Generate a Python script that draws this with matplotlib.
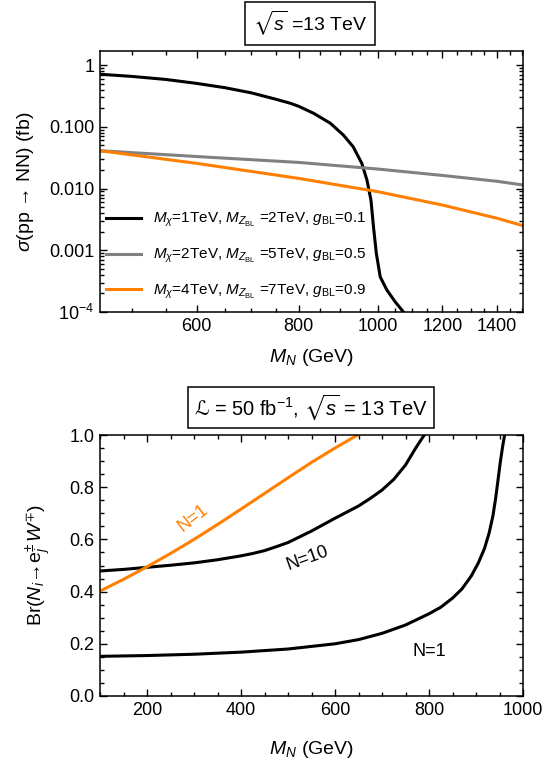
import numpy as np
import matplotlib
matplotlib.use('Agg')
import matplotlib.pyplot as plt
from matplotlib.ticker import (FixedLocator, FixedFormatter, MultipleLocator,
                               NullFormatter, LogLocator, FormatStrFormatter)

plt.rcParams['font.family'] = ['Liberation Sans', 'DejaVu Sans']
plt.rcParams['mathtext.fontset'] = 'custom'
plt.rcParams['mathtext.rm'] = 'Liberation Sans'
plt.rcParams['mathtext.it'] = 'Liberation Sans:italic'
plt.rcParams['mathtext.bf'] = 'Liberation Sans:bold'
plt.rcParams['mathtext.cal'] = 'DejaVu Sans'
plt.rcParams['mathtext.fallback'] = 'stix'

# ---------------- top panel data: sigma(pp -> NN) [fb] vs M_N [GeV]
mn_a = [457, 500, 550, 600, 650, 700, 750, 782, 800, 835, 875, 908, 933, 956,
        970, 981, 988, 996, 1007, 1026, 1050, 1066, 1075]
sig_a = [0.71, 0.655, 0.585, 0.505, 0.43, 0.355, 0.28, 0.24, 0.215, 0.165, 0.114,
         0.073, 0.0475, 0.0256, 0.0137, 0.0065, 0.0024, 8.9e-4, 3.7e-4, 2.27e-4,
         1.47e-4, 1.15e-4, 1.0e-4]
mn_b = [457, 600, 800, 1000, 1200, 1400, 1506]
sig_b = [0.041, 0.033, 0.0265, 0.0207, 0.0163, 0.0131, 0.0114]
mn_c = [457, 600, 800, 1000, 1200, 1400, 1506]
sig_c = [0.041, 0.0256, 0.0146, 0.0089, 0.0054, 0.0033, 0.0025]
labels_top = [r'$M_\chi$=1TeV, $M_{Z_{\rm BL}}$ =2TeV, $g_{\rm BL}$=0.1',
              r'$M_\chi$=2TeV, $M_{Z_{\rm BL}}$ =5TeV, $g_{\rm BL}$=0.5',
              r'$M_\chi$=4TeV, $M_{Z_{\rm BL}}$ =7TeV, $g_{\rm BL}$=0.9']
top_yticks = [1, 0.1, 0.01, 0.001, 1e-4]
top_yticklabels = ['1', '0.100', '0.010', '0.001', r'10$^{-4}$']
top_xticks = [600, 800, 1000, 1200, 1400]

# ---------------- bottom panel data: branching ratio vs M_N [GeV]
mn_n1 = [100, 200, 300, 400, 500, 600, 650, 700, 750, 800, 825, 850, 870, 890,
         905, 918, 928, 936, 942, 947, 952, 957, 961]
br_n1 = [0.152, 0.155, 0.160, 0.168, 0.180, 0.200, 0.216, 0.240, 0.272, 0.315,
         0.34, 0.375, 0.41, 0.46, 0.51, 0.565, 0.625, 0.69, 0.76, 0.83, 0.90,
         0.96, 1.0]
mn_n10 = [100, 150, 200, 250, 300, 350, 400, 425, 450, 475, 500, 550, 600, 650,
          675, 700, 725, 750, 770, 780, 790]
br_n10 = [0.479, 0.485, 0.493, 0.501, 0.510, 0.522, 0.537, 0.546, 0.557, 0.572,
          0.588, 0.632, 0.681, 0.728, 0.757, 0.789, 0.830, 0.885, 0.945, 0.973, 1.0]
mn_or = [100, 150, 200, 250, 300, 350, 400, 450, 500, 550, 600, 648]
br_or = [0.402, 0.447, 0.495, 0.546, 0.600, 0.657, 0.716, 0.776, 0.836, 0.895,
         0.950, 1.0]

ORANGE = (1.0, 0.5, 0.0)
GRAY = (0.5, 0.5, 0.5)

W, H = 554, 762
fig = plt.figure(figsize=(W / 100, H / 100), dpi=100)

def frac(x0, y0, x1, y1):
    return [x0 / W, 1 - y1 / H, (x1 - x0) / W, (y1 - y0) / H]

def style(ax):
    ax.tick_params(which='both', direction='in', top=True, right=True,
                   labelsize=13, pad=4, width=1)
    ax.tick_params(which='major', length=5)
    ax.tick_params(which='minor', length=3)
    for s in ax.spines.values():
        s.set_linewidth(1.1)

# ---------------- top axes
ax1 = fig.add_axes(frac(100, 51, 523, 312))
ax1.plot(mn_a, sig_a, color='black', lw=2.2, label=labels_top[0])
ax1.plot(mn_b, sig_b, color=GRAY, lw=2.2, label=labels_top[1])
ax1.plot(mn_c, sig_c, color=ORANGE, lw=2.2, label=labels_top[2])
ax1.set_xscale('log')
ax1.set_yscale('log')
ax1.set_xlim(457, 1506)
ax1.set_ylim(1e-4, 1.69)
ax1.xaxis.set_major_locator(FixedLocator(top_xticks))
ax1.xaxis.set_major_formatter(FixedFormatter([str(t) for t in top_xticks]))
ax1.xaxis.set_minor_locator(FixedLocator([v for v in range(500, 1501, 50) if v not in top_xticks]))
ax1.xaxis.set_minor_formatter(NullFormatter())
ax1.yaxis.set_major_locator(FixedLocator(top_yticks))
ax1.yaxis.set_major_formatter(FixedFormatter(top_yticklabels))
ax1.yaxis.set_minor_locator(LogLocator(base=10, subs=np.arange(2, 10), numticks=20))
ax1.yaxis.set_minor_formatter(NullFormatter())
style(ax1)
ax1.set_xlabel(r'$M_N$ (GeV)', fontsize=14, labelpad=9)
ax1.set_ylabel(r'$\sigma$(pp → NN) (fb)', fontsize=14)
ax1.yaxis.set_label_coords(-0.151, 0.5)
leg = ax1.legend(loc='upper left', bbox_to_anchor=(0.0, 0.41), frameon=False,
                 fontsize=11, handlelength=2.3, handletextpad=0.8,
                 labelspacing=1.15, borderaxespad=0.0)

fig.text(310 / W, 1 - 23.5 / H, r'$\sqrt{s}$ =13 TeV', ha='center', va='center',
         fontsize=14,
         bbox=dict(boxstyle='square,pad=0.38', fc='white', ec='black', lw=1.1))

# ---------------- bottom axes
ax2 = fig.add_axes(frac(100, 435, 523, 696))
ax2.plot(mn_n1, br_n1, color='black', lw=2.2)
ax2.plot(mn_n10, br_n10, color='black', lw=2.2)
ax2.plot(mn_or, br_or, color=ORANGE, lw=2.2)
ax2.set_xlim(100, 1000)
ax2.set_ylim(0, 1.0)
ax2.xaxis.set_major_locator(MultipleLocator(200))
ax2.xaxis.set_minor_locator(MultipleLocator(50))
ax2.yaxis.set_major_locator(MultipleLocator(0.2))
ax2.yaxis.set_minor_locator(MultipleLocator(0.05))
ax2.yaxis.set_major_formatter(FormatStrFormatter('%.1f'))
style(ax2)
ax2.set_xlabel(r'$M_N$ (GeV)', fontsize=14, labelpad=15)
ax2.set_ylabel(r'Br($N_i$→e$_j^{\pm}$$\,W^{\mp}$)', fontsize=14)
ax2.yaxis.set_label_coords(-0.112, 0.5)
ax2.text(297, 0.68, 'N=1', color=ORANGE, fontsize=13, rotation=38,
         ha='center', va='center')
ax2.text(542, 0.527, 'N=10', color='black', fontsize=13, rotation=20,
         ha='center', va='center')
ax2.text(801, 0.17, 'N=1', color='black', fontsize=13, ha='center', va='center')

fig.text(311 / W, 1 - 407.5 / H,
         r'$\mathcal{ℒ}$ = 50 fb$^{-1}$, $\sqrt{s}$ = 13 TeV', ha='center', va='center',
         fontsize=14.5,
         bbox=dict(boxstyle='square,pad=0.3', fc='white', ec='black', lw=1.1))

fig.savefig('out.png', dpi=100)
